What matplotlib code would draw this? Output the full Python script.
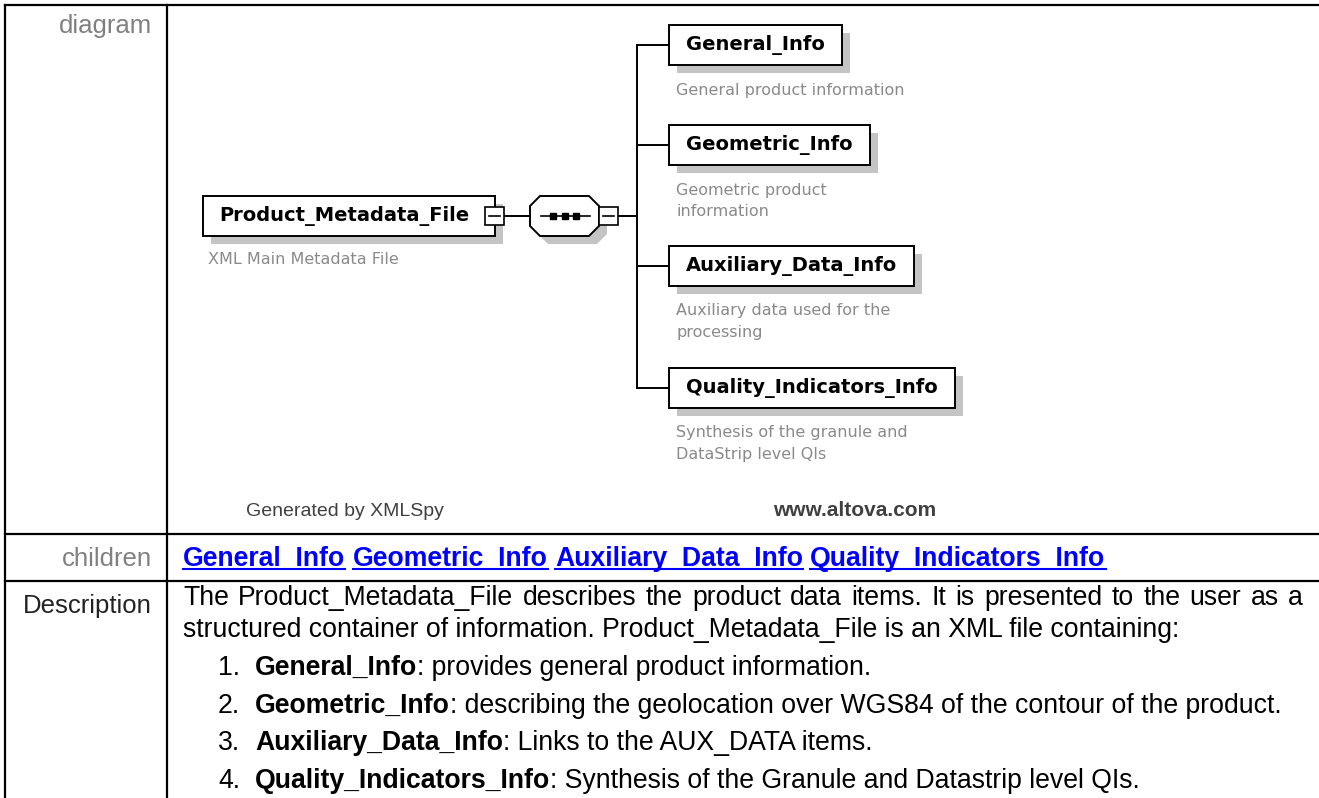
import matplotlib.pyplot as plt
from matplotlib.patches import Rectangle, Polygon

# content of the schema diagram and the documentation table
root_name = 'Product_Metadata_File'
root_doc = 'XML Main Metadata File'
child_names = ['General_Info', 'Geometric_Info', 'Auxiliary_Data_Info', 'Quality_Indicators_Info']
child_docs = ['General product information',
              'Geometric product\ninformation',
              'Auxiliary data used for the\nprocessing',
              'Synthesis of the granule and\nDataStrip level QIs']
row_labels = ['diagram', 'children', 'Description']
desc_lines = ['The Product_Metadata_File describes the product data items. It is presented to the user as a',
              'structured container of information. Product_Metadata_File is an XML file containing:']
item_texts = [': provides general product information.',
              ': describing the geolocation over WGS84 of the contour of the product.',
              ': Links to the AUX_DATA items.',
              ': Synthesis of the Granule and Datastrip level QIs.']
footer_left = 'Generated by XMLSpy'
footer_right = 'www.altova.com'

W, H = 1319, 798
SHADOW = '#c4c4c4'
DOC_GRAY = '#8a8a8a'
TABLE_FONT = 'Liberation Sans'
DIAG_FONT = 'DejaVu Sans'
FS = 19.2

fig = plt.figure(figsize=(W / 100, H / 100), dpi=100)
ax = fig.add_axes([0, 0, 1, 1])
ax.set_xlim(0, W)
ax.set_ylim(H, 0)
ax.axis('off')
renderer = fig.canvas.get_renderer()


def text_width(t):
    return t.get_window_extent(renderer).width


def minus_box(x0, yc):
    ax.add_patch(Rectangle((x0, yc - 9), 19, 18, fc='white', ec='black', lw=1.2, zorder=4))
    ax.plot([x0 + 4, x0 + 15], [yc, yc], color='black', lw=1.2, zorder=5)


def element_box(x0, yc, name, pad_l=17, pad_r=17, h=40):
    t = ax.text(x0 + pad_l, yc, name, fontsize=14, fontweight='bold', family=DIAG_FONT,
                va='center', ha='left', zorder=4)
    w = text_width(t) + pad_l + pad_r
    ax.add_patch(Rectangle((x0 + 8, yc - h / 2 + 8), w, h, fc=SHADOW, ec='none', zorder=1))
    ax.add_patch(Rectangle((x0, yc - h / 2), w, h, fc='white', ec='black', lw=1.4, zorder=2))
    return x0 + w


def doc_text(x, y, doc):
    for i, line in enumerate(doc.split('\n')):
        ax.text(x, y + i * 22, line, fontsize=11.5, color=DOC_GRAY, family=DIAG_FONT,
                va='center', ha='left')


# table grid
lw_t = 1.6
ax.plot([5, W], [5, 5], color='black', lw=lw_t)
ax.plot([5, 5], [5, H], color='black', lw=lw_t)
ax.plot([167, 167], [5, H], color='black', lw=lw_t)
for yr in [534, 581]:
    ax.plot([5, W], [yr, yr], color='black', lw=lw_t)

# row labels
ax.text(152, 33, row_labels[0], fontsize=18.5, color='#808080', family=TABLE_FONT, ha='right', va='baseline')
ax.text(152, 566, row_labels[1], fontsize=18.5, color='#808080', family=TABLE_FONT, ha='right', va='baseline')
ax.text(152, 613, row_labels[2], fontsize=18.5, color='#222222', family=TABLE_FONT, ha='right', va='baseline')

# diagram: root element
root_y = 216
root_right = element_box(203, root_y, root_name, pad_l=16, pad_r=26)
minus_box(root_right - 10, root_y)
doc_text(208, 260, root_doc)

# sequence compositor
sx0, sx1, c = 530, 599, 10
ytop, ybot = root_y - 20, root_y + 20
oct_pts = [(sx0 + c, ytop), (sx1 - c, ytop), (sx1, ytop + c), (sx1, ybot - c),
           (sx1 - c, ybot), (sx0 + c, ybot), (sx0, ybot - c), (sx0, ytop + c)]
ax.add_patch(Polygon([(px + 8, py + 8) for px, py in oct_pts], closed=True, fc=SHADOW, ec='none', zorder=1))
ax.add_patch(Polygon(oct_pts, closed=True, fc='white', ec='black', lw=1.4, zorder=2))
ax.plot([root_right + 9, sx0], [root_y, root_y], color='black', lw=1.4, zorder=3)
ax.plot([541, 590], [root_y, root_y], color='black', lw=1.2, zorder=3)
ax.plot([553, 565, 576], [root_y] * 3, 's', color='black', ms=4, zorder=4)
minus_box(sx1, root_y)

# children
bus_x = 637
child_y = [45, 145, 266, 388]
ax.plot([sx1 + 19, bus_x], [root_y, root_y], color='black', lw=1.4, zorder=3)
ax.plot([bus_x, bus_x], [child_y[0], child_y[-1]], color='black', lw=1.4, zorder=3)
for name, doc, cy in zip(child_names, child_docs, child_y):
    ax.plot([bus_x, 669], [cy, cy], color='black', lw=1.4, zorder=3)
    element_box(669, cy, name)
    doc_text(676, cy + 45, doc)

# footer of the diagram
ax.text(345, 511, footer_left, fontsize=14, color='#404040', family=TABLE_FONT, ha='center', va='center')
ax.text(855, 511, footer_right, fontsize=15, fontweight='bold', color='#404040', family=TABLE_FONT,
        ha='center', va='center')

# children links
x = 183
space = 0.278 * FS * 100 / 72
for name in child_names:
    t = ax.text(x, 566, name, fontsize=FS, fontweight='bold', color='#0000ff', family=TABLE_FONT,
                ha='left', va='baseline')
    w = text_width(t)
    ax.plot([x, x + w], [569, 569], color='#0000ff', lw=1.5)
    x += w + space

# description, first line justified to the cell width
words = desc_lines[0].split(' ')
word_objs = [ax.text(0, 605, wd, fontsize=FS, family=TABLE_FONT, ha='left', va='baseline') for wd in words]
widths = [text_width(t) for t in word_objs]
gap = (1303 - 183 - sum(widths)) / (len(words) - 1)
x = 183
for t, w in zip(word_objs, widths):
    t.set_x(x)
    x += w + gap
ax.text(183, 637, desc_lines[1], fontsize=FS, family=TABLE_FONT, ha='left', va='baseline')
item_base = [675, 713, 750, 788]
for i, (name, rest, yb) in enumerate(zip(child_names, item_texts, item_base)):
    ax.text(240, yb, f'{i + 1}.', fontsize=FS, family=TABLE_FONT, ha='right', va='baseline')
    t = ax.text(255, yb, name, fontsize=FS, fontweight='bold', family=TABLE_FONT, ha='left', va='baseline')
    ax.text(255 + text_width(t), yb, rest, fontsize=FS, family=TABLE_FONT, ha='left', va='baseline')

fig.savefig('out.png', dpi=100)
